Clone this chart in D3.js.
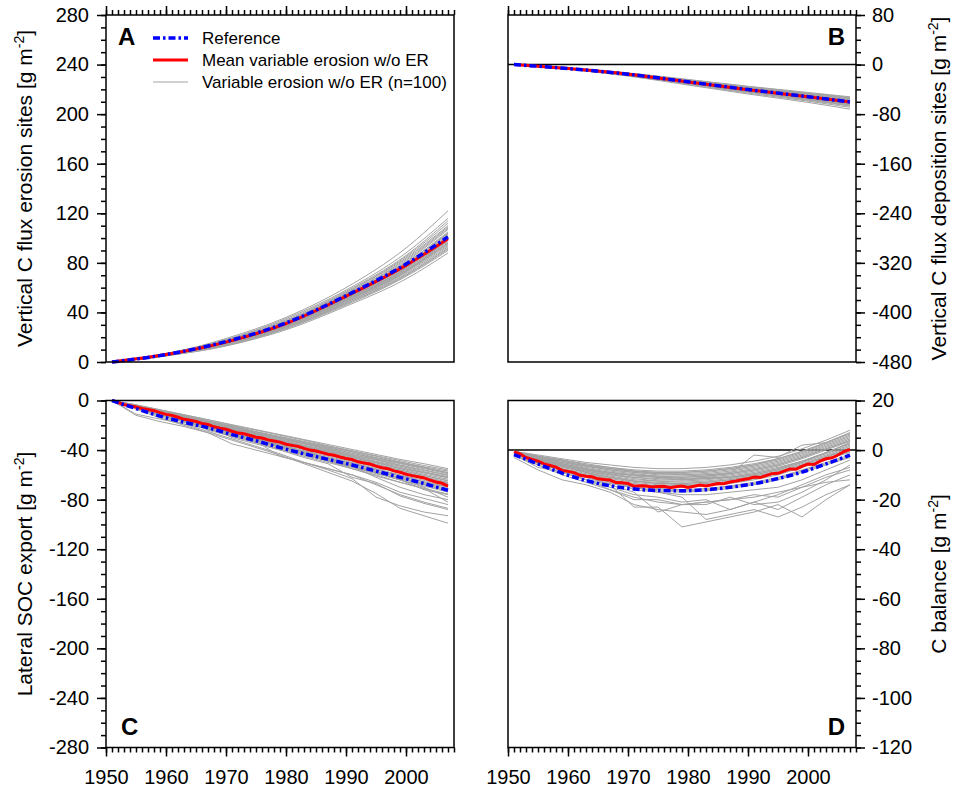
<!DOCTYPE html>
<html>
<head>
<meta charset="utf-8">
<script src="https://cdn.jsdelivr.net/npm/d3@7"></script>
<style>
  body { margin: 0; background: #fff; }
  svg text { font-family: "Liberation Sans", Arial, Helvetica, sans-serif; fill: #000; }
</style>
</head>
<body>
<div id="viz"></div>
<script>
// years used by the different series
var yearsSmooth = [1951, 1960, 1970, 1980, 1990, 2000, 2007];
var years4 = [1951, 1955, 1959, 1963, 1967, 1971, 1975, 1979, 1983, 1987, 1991, 1995, 1999, 2003, 2007];
var yearsAll = d3.range(1951, 2008);

var xTickLabels = [1950, 1960, 1970, 1980, 1990, 2000];

// ---- panel A : vertical C flux erosion sites
var refA = [0, 6, 16.5, 31.5, 53.5, 79, 101];
var meanA = [0, 6, 16, 31, 53, 78, 99.5];
var grayA = [
  [0, 6.5, 19, 36, 60, 92, 122],
  [0, 7, 18, 35, 58, 88, 116],
  [0, 6.5, 18, 34, 57, 86, 114],
  [0, 6, 17, 33, 56, 85, 112],
  [0, 6.5, 17.5, 33, 56, 84, 110],
  [0, 6, 17, 33, 55, 83, 109],
  [0, 6, 17, 32, 55, 82, 108],
  [0, 6, 16, 32, 54, 81, 107],
  [0, 6, 16, 32, 54, 80, 105],
  [0, 6, 15, 30, 50, 76, 104],
  [0, 6, 16.5, 32, 54, 80, 104],
  [0, 6, 16, 31, 53, 79, 103],
  [0, 6, 16, 31, 53, 78, 102],
  [0, 6, 16, 31, 52, 78, 101],
  [0, 6, 16, 31, 52, 77, 101],
  [0, 6, 15, 30, 52, 77, 100],
  [0, 6, 15, 30, 51, 76, 99],
  [0, 5.5, 15, 29, 50, 73, 99],
  [0, 5.5, 15, 30, 51, 75, 98.5],
  [0, 5.5, 15, 30, 51, 75, 98],
  [0, 5.5, 15, 29, 50, 74, 97],
  [0, 5.5, 15, 29, 50, 74, 96],
  [0, 5.5, 14.5, 29, 49, 73, 96],
  [0, 5.5, 14, 29, 49, 73, 95],
  [0, 5.5, 14, 28, 48, 72, 94],
  [0, 5, 14, 28, 48, 71, 93],
  [0, 5, 14, 28, 47, 70, 92],
  [0, 5, 14, 27, 47, 70, 91],
  [0, 5, 13, 27, 46, 69, 90],
  [0, 5, 13, 26, 45, 67, 88]
];

// ---- panel B : vertical C flux deposition sites
var refB = [0, -6.4, -15.5, -27.8, -40.3, -51.8, -60.3];
var meanB = [0, -6.5, -15.5, -28, -40.5, -52, -60.5];
var grayB = [
  [0, -5.5, -13.5, -24, -35, -45, -52],
  [0, -5.7, -13.8, -24.6, -35.5, -46, -53],
  [0, -5.8, -14, -25, -36, -46.5, -54],
  [0, -5.9, -14.3, -25.5, -37, -47.5, -55],
  [0, -6, -14.5, -26, -37.5, -48, -56],
  [0, -6, -15, -26.5, -38.5, -49, -57],
  [0, -6.1, -14.8, -26.8, -38.8, -49.5, -58],
  [0, -6.2, -15, -27, -39, -50, -58],
  [0, -6.2, -15.2, -27.2, -39.2, -50.5, -58.5],
  [0, -6.3, -15.3, -27.5, -39.5, -51, -59],
  [0, -6.5, -15.6, -28, -40.6, -52.2, -60],
  [0, -6.5, -15.5, -28, -40.5, -52, -60.5],
  [0, -6.4, -15.8, -28.3, -40.8, -52.5, -61],
  [0, -6.6, -16, -28.5, -41, -53, -61.5],
  [0, -6.7, -16.1, -28.8, -41.5, -53.5, -62],
  [0, -6.8, -16.3, -29, -42, -54, -62.5],
  [0, -6.9, -16.4, -29.3, -42.3, -54.5, -63],
  [0, -7, -16.5, -29.5, -42.5, -55, -64],
  [0, -7.1, -16.8, -30, -43, -55.5, -64.5],
  [0, -7.2, -17, -30, -43.5, -56, -65],
  [0, -7.3, -17.2, -30.5, -44, -57, -66],
  [0, -7.4, -17.5, -31, -44.5, -57.5, -67],
  [0, -7.6, -18, -32, -46, -59, -69],
  [0, -7.8, -18.5, -33, -47.5, -61, -72]
];

// ---- panel C : lateral SOC export
var refC = [0, -6.5, -12.6, -17.5, -22, -27.5, -32.5, -38, -43, -47.5, -52, -57, -62, -67, -72.5];
var meanC = [0, -1.5, -3.5, -4.2, -5.2, -6.5, -7.3, -8.2, -9.8, -11.2, -12, -13.5, -15.2, -16, -17,
  -18.5, -19.3, -21.2, -22.3, -23.2, -24.8, -26.3, -26.9, -28.2, -29.6, -30.3, -31.8, -32.7, -33.6,
  -35.3, -36.2, -37, -38.6, -40, -40.8, -42.1, -43.4, -44.2, -45.6, -46.8, -47.6, -49.5, -50.4, -51.3,
  -53, -54.2, -55, -56.8, -57.9, -59.5, -60.6, -61.6, -62.5, -64.2, -65.8, -66.8, -69];
var grayC = [
  [0, -3.5, -7.5, -11.5, -15.5, -19.5, -23.5, -27.5, -31.5, -35.5, -39.5, -43.5, -47.5, -51, -55],
  [0, -3.5, -7.5, -11.5, -15.5, -20, -24, -28, -32, -36.5, -40.5, -44.5, -48.5, -52.5, -56],
  [0, -4, -8, -12, -16.5, -20.5, -25, -29, -33, -37, -41, -45, -49.5, -53.5, -57],
  [0, -4, -8.5, -12.5, -17, -21, -25.5, -30, -34, -38, -42.5, -46.5, -50.5, -54.5, -58],
  [0, -4, -8, -12.5, -16.5, -21, -25.5, -29.5, -33.5, -37.5, -41.5, -46, -50, -54, -58.5],
  [0, -4, -8.5, -13, -17, -21.5, -26, -30, -34.5, -38.5, -42.5, -47, -51, -55, -59],
  [0, -4.5, -8.5, -13, -17.5, -22, -26.5, -30.5, -35, -39, -43.5, -47.5, -52, -56, -60],
  [0, -4.5, -9, -13.5, -18, -22, -26.5, -31, -35, -39.5, -44, -48, -52.5, -56.5, -60.5],
  [0, -4.5, -9, -13.5, -18, -22.5, -27, -31.5, -36, -40, -44.5, -49, -53, -57.5, -61.5],
  [0, -4.5, -9, -13.5, -18, -23, -27.5, -32, -36.5, -40.5, -45, -49.5, -54, -58, -62],
  [0, -4.5, -9.5, -14, -18.5, -23.5, -28, -32.5, -37, -41, -45.5, -50, -54.5, -58.5, -62.5],
  [0, -5, -9.5, -14, -18.5, -23, -28, -32.5, -37, -41.5, -46, -50.5, -55, -59.5, -63.5],
  [0, -5, -9.5, -14, -19, -23.5, -28.5, -33, -37.5, -42.5, -47, -51.5, -56, -60.5, -64.5],
  [0, -4.5, -9, -14, -19, -24, -28.5, -33, -37.5, -42, -47, -51.5, -56, -60.5, -65],
  [0, -5, -10, -14.5, -19.5, -24, -29, -34, -38.5, -43, -47.5, -52.5, -57, -61.5, -66],
  [0, -5, -9.5, -14.5, -19.5, -24.5, -29.5, -34, -39, -43.5, -48, -53, -57.5, -62, -66.5],
  [0, -5, -10, -15, -20, -25, -30, -35, -39.5, -44, -49, -54, -58.5, -63, -67],
  [0, -5, -10, -15, -19.5, -24.5, -29.5, -34.5, -39, -44, -48.5, -53, -58, -62.5, -67.5],
  [0, -5.5, -10.5, -15.5, -20.5, -25.5, -30.5, -35.5, -40.5, -45, -50, -55, -60, -64.5, -68.5],
  [0, -5.5, -10.5, -15.5, -21, -26, -31, -36, -41, -46, -50.5, -55.5, -60.5, -65.5, -69.5],
  [0, -5.5, -11, -16, -21, -26, -31.5, -36.5, -41.5, -46.5, -51, -56, -61, -66, -70],
  [0, -5.5, -11, -16.5, -21.5, -26.5, -32, -37, -42, -47, -52, -57, -62, -67, -71],
  [0, -6, -11.5, -16.5, -22, -27, -32, -37.5, -42.5, -47.5, -52.5, -57.5, -62.5, -67.5, -72],
  [0, -5, -10, -15, -20, -25, -31, -36, -41, -47, -52, -57, -63, -68, -73],
  [0, -6, -12, -17, -22.5, -28, -33, -38, -43.5, -48.5, -53.5, -58.5, -64, -69, -74],
  [0, -6, -12, -17.5, -23, -28.5, -34, -39.5, -45, -50, -55, -61, -66, -71, -75.5],
  [0, -6, -11, -16, -22, -27, -32, -37, -43, -48, -53, -58, -64, -72, -76],
  [0, -4, -9, -13, -18, -24, -28, -33, -38, -49, -54, -59, -64, -70, -78],
  [0, -11, -15, -19, -23, -28, -32, -38, -43, -48, -53, -62, -70, -76, -80],
  [0, -5, -10, -15, -24, -29, -34, -39, -44, -49, -55, -60, -66, -71, -82],
  [0, -12, -17, -21, -26, -35, -40, -45, -50, -55, -60, -66, -74, -79, -84],
  [0, -6, -12, -17, -22, -27, -33, -45, -50, -55, -60, -68, -76, -82, -87],
  [0, -5, -11, -16, -21, -30, -35, -40, -46, -51, -62, -67, -77, -83, -88],
  [0, -6, -13, -19, -25, -31, -37, -43, -50, -56, -63, -78, -85, -90, -93],
  [0, -7, -14, -20, -26, -32, -38, -44, -51, -58, -65, -75, -87, -93, -99]
];

// ---- panel D : C balance
var refD = [-1.8, -5.6, -9.3, -12.3, -14.4, -15.7, -16.3, -16.4, -16, -15, -13.6, -11.5, -8.9, -5.6, -2];
var meanD = [-0.7, -1.5, -3, -3.8, -4.5, -5.6, -6.2, -6.9, -8.2, -8.6, -9.1, -10.2, -10.6, -10.8, -11.6,
  -11.9, -12.1, -13.1, -13.2, -13.5, -14.6, -14.4, -14.5, -14.9, -14.7, -14.6, -15.2, -14.8, -14.5,
  -15.1, -14.6, -14.1, -14.5, -14, -13.5, -13.6, -12.9, -12.5, -12, -11.6, -10.9, -11.1, -10.3, -9.5,
  -9.4, -8.5, -7.6, -7.7, -6.6, -5.6, -5.8, -4.5, -3.5, -3.1, -2, -0.6, 0.3];
var grayD = [
  [-0.5, -2, -3.5, -5, -6, -7, -7.5, -7.5, -7, -6, -4.5, -2.5, 0.5, 4, 8],
  [-0.5, -2.5, -4, -5.5, -7, -8, -8.5, -8.5, -8, -7, -5.5, -3.5, -0.5, 3, 6.5],
  [-0.5, -2.5, -4, -6, -7.5, -8.5, -9, -9, -8.5, -7.5, -6, -3.5, -0.5, 3, 7],
  [-0.5, -3, -4.5, -6.5, -7.5, -8.5, -9, -9, -8.5, -7.5, -6, -4, -1, 2.5, 6],
  [-0.5, -2.5, -4.5, -6.5, -8, -9, -9.5, -9.5, -9, -8, -6.5, -4.5, -1.5, 2, 5.5],
  [-1, -3, -5, -6.5, -8, -9, -10, -10, -9.5, -8.5, -7, -5, -2, 1.5, 5],
  [-1, -3, -5, -7, -8.5, -9.5, -10.5, -10.5, -10, -9, -7.5, -5.5, -2.5, 1, 4.5],
  [-1, -3, -5.5, -7.5, -9.5, -10, -11, -11, -10.5, -9.5, -8, -6, -3, 0.5, 4],
  [-1, -3.5, -5.5, -7.5, -9, -10, -10.5, -11, -10.5, -9.5, -8, -6, -3, 0.5, 3.8],
  [-1, -3.5, -5.5, -7.5, -9, -10.5, -11, -11.5, -11, -10, -8.5, -6.5, -3.5, 0, 3.5],
  [-1, -3, -6, -8, -9, -10, -11, -12, -11, -11, -10, -8, -5, -1, 3],
  [-1, -3.5, -6, -8, -9.5, -11, -11.5, -12, -11.5, -11, -9.5, -7.5, -4.5, -1, 2.8],
  [-1, -3.5, -6, -8, -10, -11, -12, -12, -11.5, -10.5, -9, -7, -4.5, -1, 2.5],
  [-1, -4, -6.5, -8.5, -10, -11.5, -12.5, -12.5, -12, -11, -9.5, -7.5, -4.5, -1.5, 2],
  [-1, -4, -6.5, -8.5, -10.5, -12, -12.5, -13, -12.5, -11.5, -10, -8, -5, -2, 1.5],
  [-1, -4, -6.5, -9, -11, -12.5, -13, -13.5, -13, -12, -10.5, -8.5, -5.5, -2.5, 1],
  [-1, -4, -7, -9, -11, -12.5, -13.5, -14, -13.5, -12.5, -11, -9, -6, -3, 0.5],
  [-1, -4, -6.5, -9, -11, -12.5, -13.5, -13.5, -13, -12, -10.5, -9, -6, -2.5, 0],
  [-1.5, -4.5, -7.5, -9.5, -11.5, -13, -14, -14.5, -14, -13, -11.5, -9.5, -6.5, -3.5, -1],
  [-1.5, -4.5, -7.5, -10, -12, -13.5, -14.5, -15, -14.5, -13.5, -12, -10, -7, -4, -0.5],
  [-1.5, -5, -8, -10.5, -12.5, -14, -15.5, -16, -15.5, -14.5, -13, -11, -8, -5, -2],
  [-1.5, -5, -8, -10.5, -13, -14.5, -16, -16.5, -16, -15, -13.5, -11.5, -8.5, -5.5, -2.5],
  [-1.5, -5, -8.5, -11, -13.5, -15, -16.5, -17, -16.5, -15.5, -14, -12, -9, -6, -3],
  [-0.5, -2.5, -4, -6, -7, -8.5, -9.5, -10, -10, -9.5, -2, -3, 2, 3, 7],
  [-1, -3.5, -6.5, -9, -12, -16, -17, -18, -18, -17, -16, -15, -12, -8, -4],
  [-1.5, -5.5, -8, -12, -16, -20, -20, -22, -22, -19, -22, -21, -17, -12, -6],
  [-2, -6, -9, -12, -15, -18, -19, -21, -20, -24, -21, -18, -14, -10, -7],
  [-2, -6, -10, -13, -16, -19, -21, -22, -21, -20, -18, -19, -15, -11, -8],
  [-3, -8, -12, -14, -17, -22, -24, -25, -26, -24, -21, -24, -19, -14, -10],
  [-2, -7, -9, -12, -14, -17, -25, -22, -21, -20, -19, -17, -15, -13, -12],
  [-1, -4, -8, -10, -13, -15, -17, -19, -28, -26, -24, -27, -23, -18, -14],
  [-1.5, -5, -8.5, -11, -14, -23, -23, -31, -29, -27, -25, -22, -27, -20, -14]
];

var legendLabels = ['Reference', 'Mean variable erosion w/o ER', 'Variable erosion w/o ER (n=100)'];

// -------------------------------------------------------------
var W = 348, H = 347;
var fontFam = '"Liberation Sans", Arial, Helvetica, sans-serif';

var svg = d3.select('#viz').append('svg')
  .attr('width', 953)
  .attr('height', 792);

var panels = [
  {id: 'A', left: 106, top: 15, ydom: [0, 280], major: 40, minor: 10, side: 'left', xaxis: 'top',
   title: 'Vertical C flux erosion sites', years: yearsSmooth, gyears: yearsSmooth, myears: yearsSmooth,
   ref: refA, mean: meanA, gray: grayA, smooth: true, zero: false, labelPos: 'tl'},
  {id: 'B', left: 508, top: 15, ydom: [-480, 80], major: 80, minor: 20, side: 'right', xaxis: 'top',
   title: 'Vertical C flux deposition sites', years: yearsSmooth, gyears: yearsSmooth, myears: yearsSmooth,
   ref: refB, mean: meanB, gray: grayB, smooth: true, zero: true, labelPos: 'tr'},
  {id: 'C', left: 106, top: 400.5, ydom: [-280, 0], major: 40, minor: 10, side: 'left', xaxis: 'bottom',
   title: 'Lateral SOC export', years: years4, gyears: years4, myears: yearsAll,
   ref: refC, mean: meanC, gray: grayC, smooth: false, zero: false, labelPos: 'bl'},
  {id: 'D', left: 508, top: 400.5, ydom: [-120, 20], major: 20, minor: 5, side: 'right', xaxis: 'bottom',
   title: 'C balance', years: years4, gyears: years4, myears: yearsAll,
   ref: refD, mean: meanD, gray: grayD, smooth: false, zero: true, labelPos: 'br'}
];

panels.forEach(function(p) {
  var g = svg.append('g').attr('transform', 'translate(' + p.left + ',' + p.top + ')');

  var x = d3.scaleLinear().domain([1950, 2008]).range([0, W]);
  var y = d3.scaleLinear().domain(p.ydom).range([H, 0]);

  var mk = function(yrs, smooth) {
    return d3.line()
      .x(function(d, i) { return x(yrs[i]); })
      .y(function(d) { return y(d); })
      .curve(smooth ? d3.curveMonotoneX : d3.curveLinear);
  };

  // zero line
  if (p.zero) {
    g.append('line')
      .attr('x1', 0).attr('x2', W)
      .attr('y1', y(0)).attr('y2', y(0))
      .attr('stroke', '#000').attr('stroke-width', 1.5);
  }

  // ensemble members
  g.append('g').selectAll('path')
    .data(p.gray)
    .enter()
    .append('path')
    .attr('d', mk(p.gyears, p.smooth))
    .attr('fill', 'none')
    .attr('stroke', '#a3a3a3')
    .attr('stroke-width', 1);

  // mean
  g.append('path')
    .datum(p.mean)
    .attr('d', mk(p.myears, p.smooth))
    .attr('fill', 'none')
    .attr('stroke', '#ff0000')
    .attr('stroke-width', 3);

  // reference (dash-dot)
  g.append('path')
    .datum(p.ref)
    .attr('d', mk(p.years, true))
    .attr('fill', 'none')
    .attr('stroke', '#0000ff')
    .attr('stroke-width', 3.5)
    .attr('stroke-dasharray', '7,3,2.5,3');

  // frame
  g.append('rect')
    .attr('width', W).attr('height', H)
    .attr('fill', 'none')
    .attr('stroke', '#000')
    .attr('stroke-width', 1.5);

  // y axis, major + minor
  var yAx = p.side === 'left' ? d3.axisLeft(y) : d3.axisRight(y);
  var yMinor = p.side === 'left' ? d3.axisLeft(y) : d3.axisRight(y);
  var yG = g.append('g')
    .attr('transform', p.side === 'left' ? null : 'translate(' + W + ',0)')
    .call(yAx.tickValues(d3.range(p.ydom[0], p.ydom[1] + 1, p.major))
      .tickSize(9).tickPadding(p.side === 'left' ? 8 : 7)
      .tickFormat(function(d) { return String(d); }));
  var yG2 = g.append('g')
    .attr('transform', p.side === 'left' ? null : 'translate(' + W + ',0)')
    .call(yMinor.tickValues(d3.range(p.ydom[0], p.ydom[1] + 1, p.minor)).tickSize(5).tickFormat(''));

  // x axis, major + minor
  var xAx = p.xaxis === 'top' ? d3.axisTop(x) : d3.axisBottom(x);
  var xMinor = p.xaxis === 'top' ? d3.axisTop(x) : d3.axisBottom(x);
  var xG = g.append('g')
    .attr('transform', p.xaxis === 'top' ? null : 'translate(0,' + H + ')')
    .call(xAx.tickValues(xTickLabels).tickSize(9).tickPadding(13)
      .tickFormat(p.xaxis === 'top' ? '' : function(d) { return String(d); }));
  var xG2 = g.append('g')
    .attr('transform', p.xaxis === 'top' ? null : 'translate(0,' + H + ')')
    .call(xMinor.tickValues(d3.range(1950, 2009, 1)).tickSize(5).tickFormat(''));

  [yG, yG2, xG, xG2].forEach(function(a) {
    a.select('.domain').remove();
    a.selectAll('.tick line').attr('stroke-width', 1.5);
    a.selectAll('text').attr('font-size', 20).attr('font-family', fontFam);
  });

  // axis title with superscript
  var tx = p.side === 'left' ? 32 - p.left : 946 - p.left;
  var title = g.append('text')
    .attr('transform', 'translate(' + tx + ',' + (H / 2) + ') rotate(-90)')
    .attr('text-anchor', 'middle')
    .attr('font-size', 21);
  title.append('tspan').text(p.title + ' [g m');
  title.append('tspan').attr('dy', -8).attr('font-size', 14).text('-2');
  title.append('tspan').attr('dy', 8).text(']');

  // panel letter
  var lx = p.labelPos[1] === 'l' ? (p.id === 'A' ? 12 : 15) : W - 11;
  var ly = p.labelPos[0] === 't' ? 30 : H - 13;
  g.append('text')
    .attr('x', lx).attr('y', ly)
    .attr('text-anchor', p.labelPos[1] === 'l' ? 'start' : 'end')
    .attr('font-size', 24)
    .attr('font-weight', 'bold')
    .text(p.id);

  // legend in panel A
  if (p.id === 'A') {
    var lg = g.append('g').attr('transform', 'translate(47,23)');
    var styles = [
      {c: '#0000ff', w: 3.5, dash: '7,3,2.5,3'},
      {c: '#ff0000', w: 3, dash: null},
      {c: '#a3a3a3', w: 1, dash: null}
    ];
    legendLabels.forEach(function(t, i) {
      lg.append('line')
        .attr('x1', 0).attr('x2', 35)
        .attr('y1', i * 22).attr('y2', i * 22)
        .attr('stroke', styles[i].c)
        .attr('stroke-width', styles[i].w)
        .attr('stroke-dasharray', styles[i].dash);
      lg.append('text')
        .attr('x', 49).attr('y', i * 22 + 6)
        .attr('font-size', 17)
        .text(t);
    });
  }
});
</script>
</body>
</html>
